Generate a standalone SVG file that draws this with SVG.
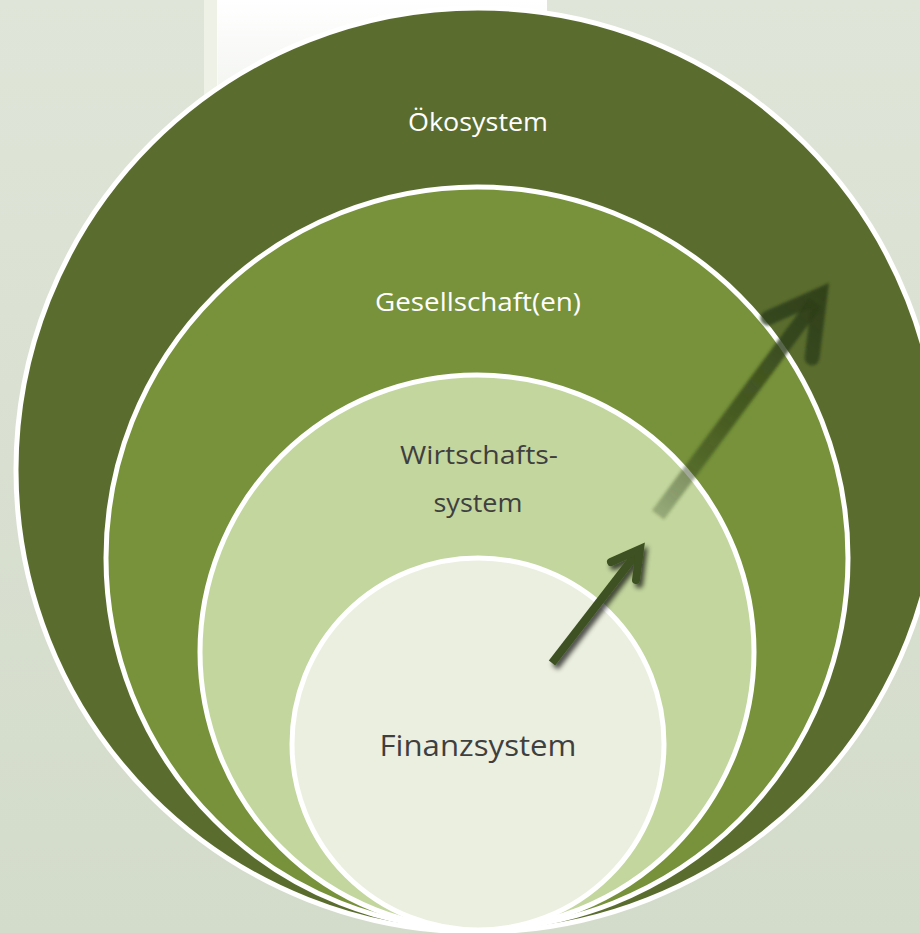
<svg xmlns="http://www.w3.org/2000/svg" width="920" height="933" viewBox="0 0 920 933">
<style>
.ring{stroke:#ffffff;stroke-width:5}
.lbl{font-family:"Open Sans","Liberation Sans",sans-serif;text-anchor:middle}
.w{fill:#ffffff;font-size:25px}
.d{fill:#3f3f3f}
</style>
<defs>
<linearGradient id="bg" x1="0" y1="0" x2="0" y2="1">
<stop offset="0" stop-color="#dfe5d8"/>
<stop offset="1" stop-color="#d3dbca"/>
</linearGradient>
<linearGradient id="glow" x1="0" y1="0" x2="0" y2="1">
<stop offset="0" stop-color="#ffffff" stop-opacity="1"/>
<stop offset="0.6" stop-color="#ffffff" stop-opacity="0.6"/>
<stop offset="1" stop-color="#ffffff" stop-opacity="0"/>
</linearGradient>
<linearGradient id="bigArr" gradientUnits="userSpaceOnUse" x1="658" y1="515" x2="823" y2="292">
<stop offset="0" stop-color="#2c3d16" stop-opacity="0.3"/>
<stop offset="0.45" stop-color="#2c3d16" stop-opacity="0.65"/>
<stop offset="1" stop-color="#2c3d16" stop-opacity="0.9"/>
</linearGradient>
<filter id="soft" x="-20%" y="-20%" width="140%" height="140%">
<feGaussianBlur stdDeviation="1.6"/>
</filter>
<filter id="shadow" x="-30%" y="-30%" width="160%" height="160%">
<feGaussianBlur in="SourceAlpha" stdDeviation="2.5"/>
<feOffset dx="3" dy="4" result="b"/>
<feComponentTransfer><feFuncA type="linear" slope="0.7"/></feComponentTransfer>
<feMerge><feMergeNode/><feMergeNode in="SourceGraphic"/></feMerge>
</filter>
</defs>
<rect width="920" height="933" fill="url(#bg)"/>
<rect x="204" y="0" width="14" height="160" fill="#eef2e8" opacity="0.9"/>
<rect x="217" y="0" width="330" height="180" fill="url(#glow)"/>
<g id="oekosystem">
<circle class="ring" cx="478" cy="470" r="462" fill="#5b6d2e"/>
<text class="lbl w" x="478" y="131" textLength="140" lengthAdjust="spacingAndGlyphs">Ökosystem</text>
</g>
<g id="gesellschaften">
<circle class="ring" cx="477" cy="558" r="371" fill="#77923b"/>
<text class="lbl w" x="478" y="311" textLength="206" lengthAdjust="spacingAndGlyphs">Gesellschaft(en)</text>
</g>
<g id="wirtschaftssystem">
<circle class="ring" cx="477" cy="652" r="277" fill="#c3d69e"/>
<text class="lbl d" font-size="25" x="479" y="464" textLength="158" lengthAdjust="spacingAndGlyphs">Wirtschafts-</text>
<text class="lbl d" font-size="25" x="478" y="512" textLength="89" lengthAdjust="spacingAndGlyphs">system</text>
</g>
<g id="finanzsystem">
<circle class="ring" cx="478" cy="744" r="186" fill="#ebefdf"/>
<text class="lbl d" font-size="29" x="478" y="756" textLength="197" lengthAdjust="spacingAndGlyphs">Finanzsystem</text>
</g>
<g id="connectors">
<g filter="url(#soft)" fill="none" stroke="url(#bigArr)" stroke-width="15" stroke-linejoin="miter">
<line x1="658" y1="515" x2="815" y2="303"/>
<polyline points="768,318 820,295 812,358" stroke-linecap="round"/>
</g>
<g filter="url(#shadow)" fill="none" stroke="#3d5120" stroke-width="8">
<line x1="552" y1="663" x2="637" y2="553"/>
<polyline points="611,562 640,549 636,580" stroke-linecap="round" stroke-linejoin="miter"/>
</g>
</g>
</svg>
